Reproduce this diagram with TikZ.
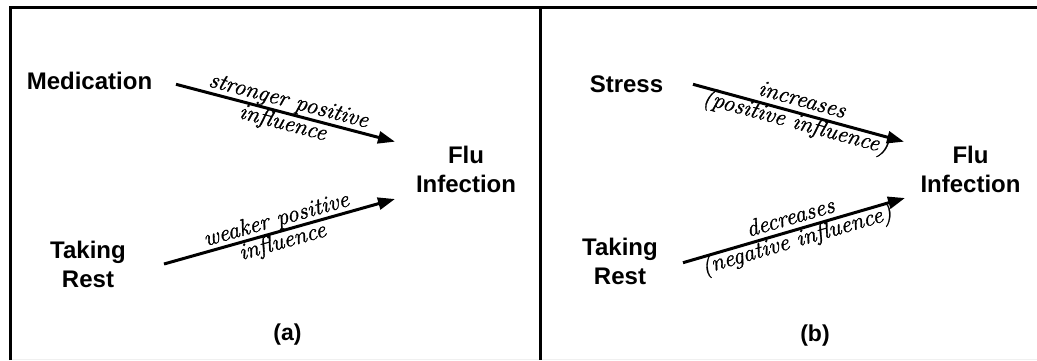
\documentclass[tikz,border=0pt]{standalone}
\usepackage{fontspec}
\setsansfont{Liberation Sans}
\newfontfamily\labelfont{Latin Modern Roman}[FakeBold=1.2]
\usetikzlibrary{arrows.meta}
\begin{document}
\begin{tikzpicture}[x=1pt,y=-1pt,
  frame/.style={line width=3pt,black},
  factor/.style={font=\sffamily\bfseries\fontsize{24}{28.5}\selectfont,align=center,inner sep=0pt},
  caption/.style={font=\sffamily\bfseries\fontsize{23}{27}\selectfont,inner sep=0pt,anchor=base},
  effect/.style={line width=3pt,-{Triangle[length=17pt,width=12pt]}},
  effectlabel/.style={font=\labelfont\itshape\fontsize{23.5}{23}\selectfont,align=center,sloped,inner sep=0pt,anchor=center}]
  \useasboundingbox (0,0) rectangle (1037,360);
  \fill[white] (0,0) rectangle (1037,360);

  % frame and divider
  \draw[gray!12,line width=1pt] (12,359.5) -- (1037,359.5);
  \draw[frame] (10.5,360) -- (10.5,7.5) -- (1037,7.5);
  \draw[frame] (540,7.5) -- (540,360);

  % panel (a)
  \node[factor,anchor=base] (med) at (89.5,89.3) {Medication};
  \node[factor] (rsta) at (88,264.5) {Taking\\Rest};
  \node[factor] (flua) at (466,169.5) {Flu\\Infection};
  \node[caption] (capa) at (287.5,340) {(a)};
  \coordinate (ma) at (176,84.3);
  \coordinate (ta) at (164,264);
  \coordinate (fa1) at (395,141.7);
  \coordinate (fa2) at (395,199);
  \draw[effect] (ma) -- node[effectlabel] {stronger positive\\influence} (fa1);
  \draw[effect] (ta) -- node[effectlabel] {weaker positive\\influence} (fa2);

  % panel (b)
  \node[factor,anchor=base] (str) at (626.5,92) {Stress};
  \node[factor] (rstb) at (620,261.5) {Taking\\Rest};
  \node[factor] (flub) at (970.5,169.5) {Flu\\Infection};
  \node[caption] (capb) at (815,341) {(b)};
  \coordinate (sb) at (693,84.3);
  \coordinate (tb) at (683,262.7);
  \coordinate (fb1) at (904,141.7);
  \coordinate (fb2) at (905,198);
  \draw[effect] (sb) -- node[effectlabel] {increases\\(positive influence)} (fb1);
  \draw[effect] (tb) -- node[effectlabel] {decreases\\(negative influence)} (fb2);
\end{tikzpicture}
\end{document}
